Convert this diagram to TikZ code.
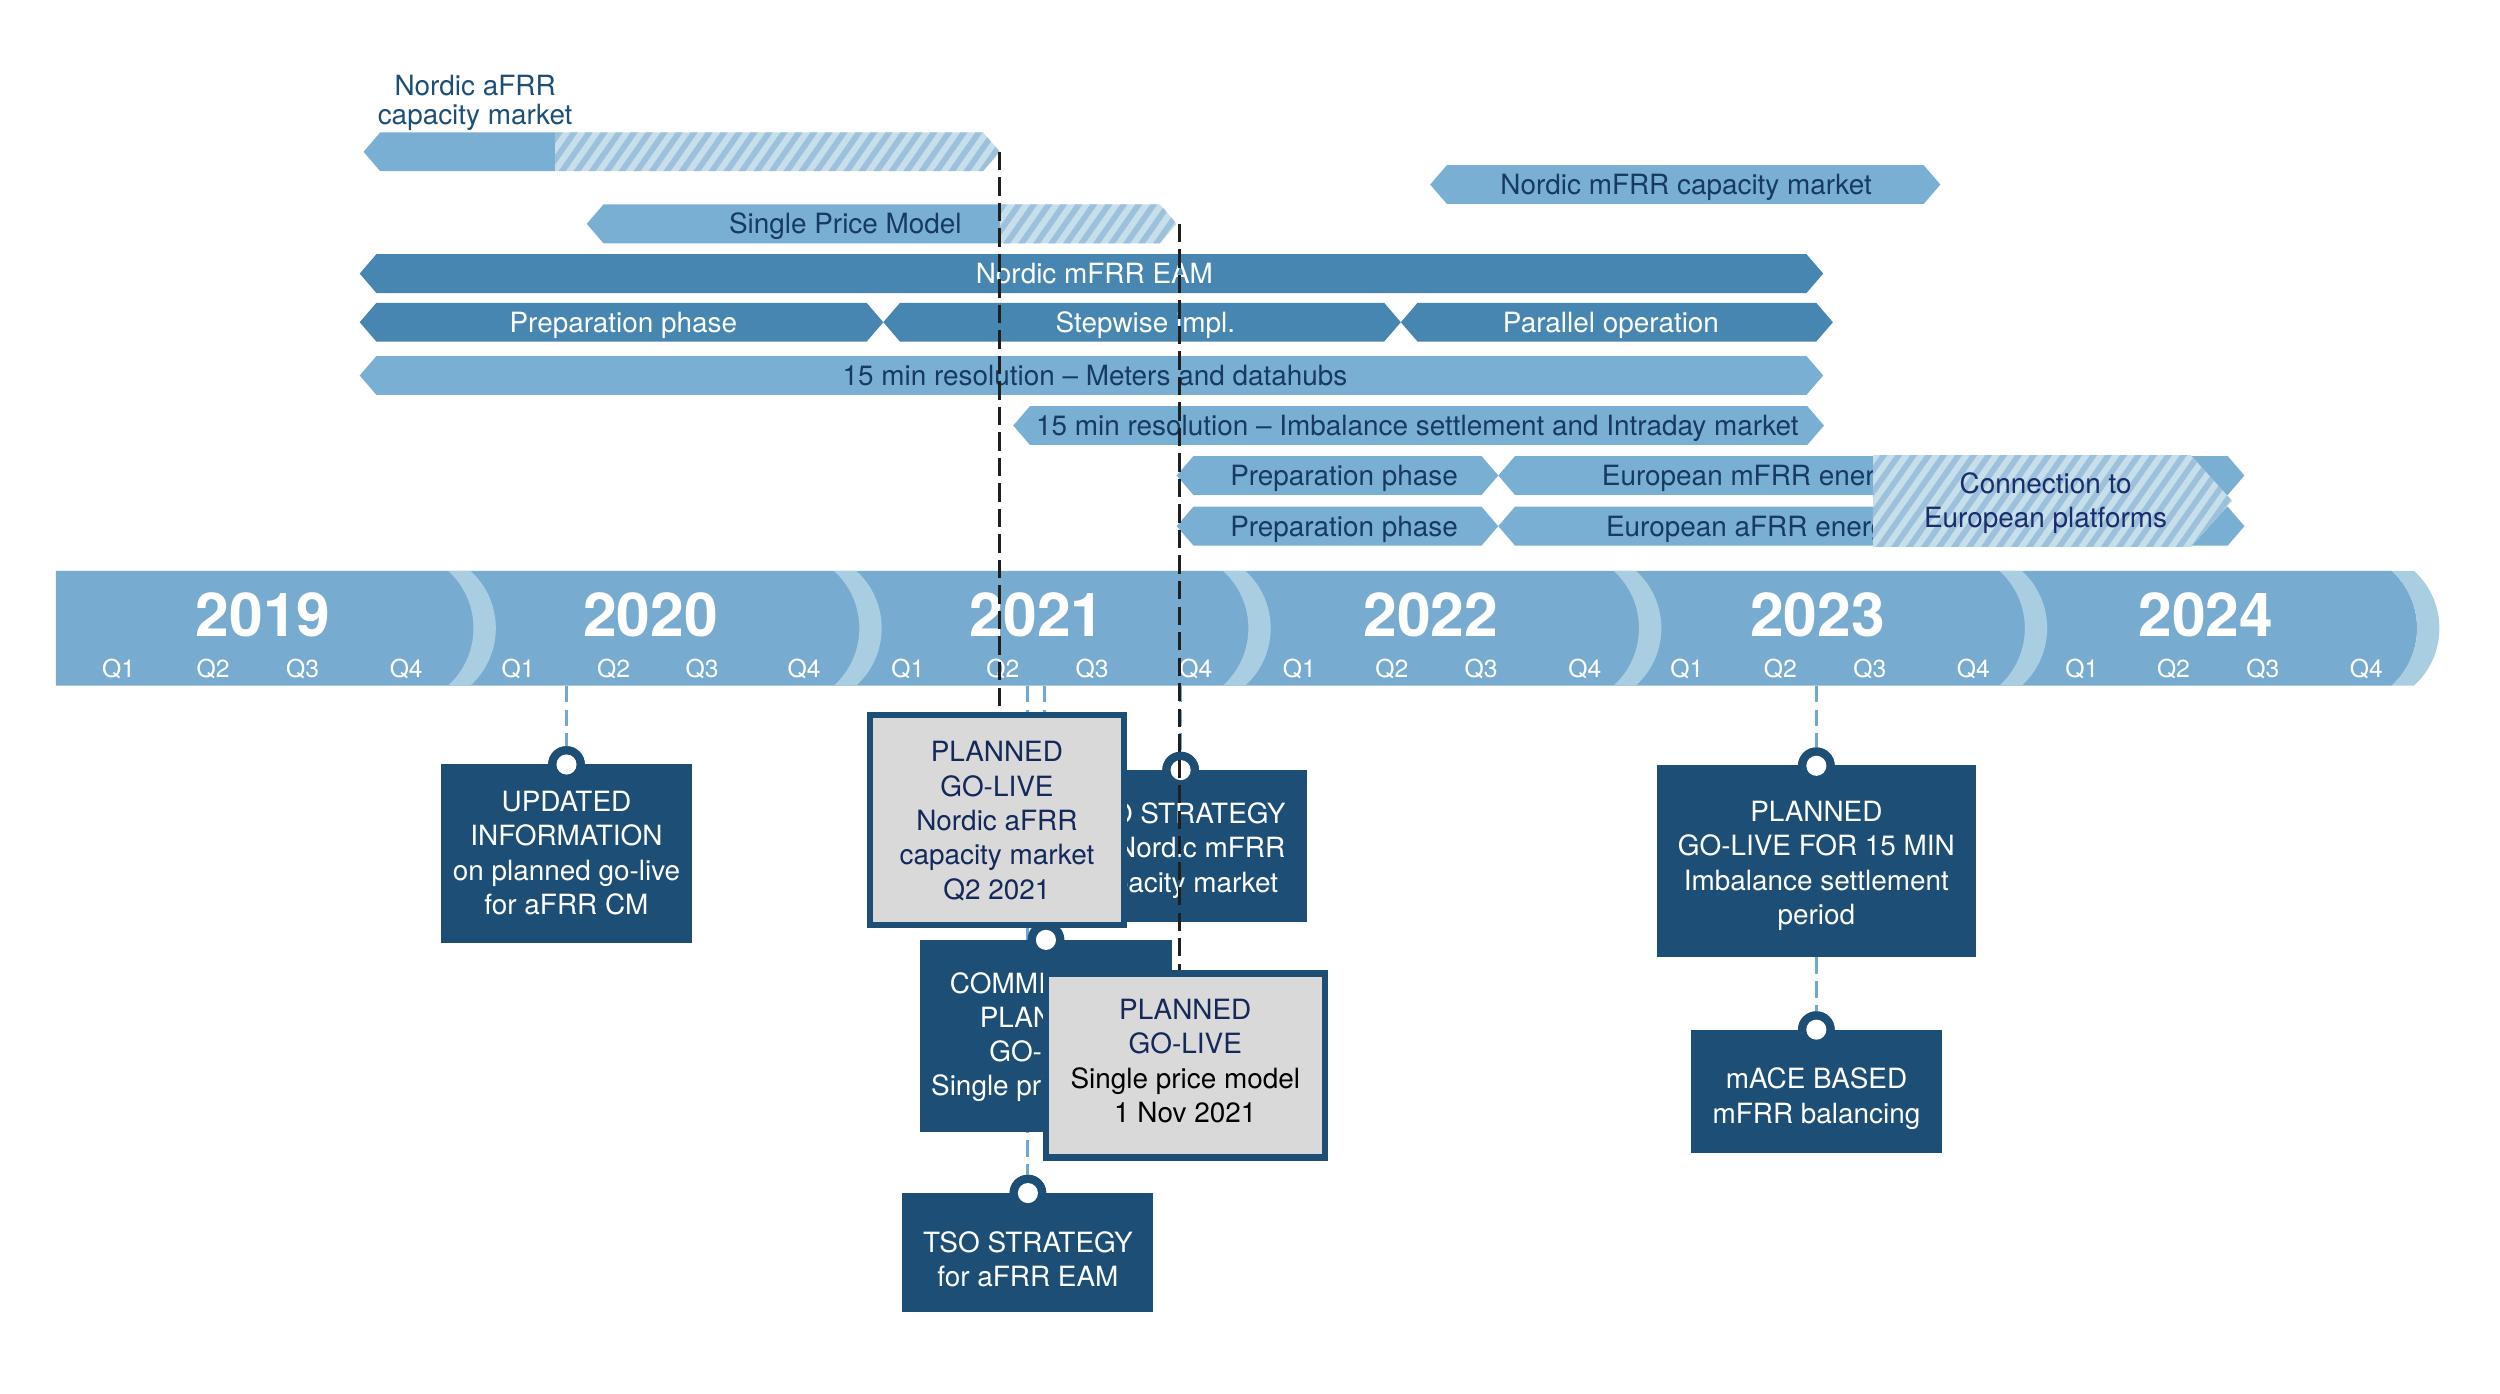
\documentclass[tikz,border=0pt]{standalone}
\usepackage{fontspec}
\setmainfont{TeX Gyre Heros}
\definecolor{band}{HTML}{77ACD0}
\definecolor{sepcol}{HTML}{A9CEE1}
\definecolor{lightbar}{HTML}{7AAFD4}
\definecolor{darkbar}{HTML}{4686B1}
\definecolor{navy}{HTML}{1D4F76}
\definecolor{bartxt}{HTML}{173A63}
\definecolor{grayfill}{HTML}{D9D9D9}
\definecolor{graytxt}{HTML}{14285A}
\definecolor{conntxt}{HTML}{1A2C6B}
\definecolor{hatchlight}{HTML}{C7DEEB}
\definecolor{hatchdark}{HTML}{9DC1DB}
\definecolor{dashblue}{HTML}{6FA8D2}
\newcommand{\tlbar}[4]{\fill[#4] (#1,#3) -- ({#1+10.5},{#3-12.2}) -- ({#2-10.5},{#3-12.2}) -- (#2,#3) -- ({#2-10.5},{#3+12.2}) -- ({#1+10.5},{#3+12.2}) -- cycle;}
\newcommand{\tlbarclip}[3]{\clip (#1,#3) -- ({#1+10.5},{#3-12.2}) -- ({#2-10.5},{#3-12.2}) -- (#2,#3) -- ({#2-10.5},{#3+12.2}) -- ({#1+10.5},{#3+12.2}) -- cycle;}
\newcommand{\hatchstripes}[4]{%
  \fill[hatchlight] (#1,#3) rectangle (#2,#4);
  \foreach \k in {0,...,36}{\draw[hatchdark,line width=3.6pt] ({#1-45+9.4*\k},{#4+3}) -- ++({0.7*(#4-#3+6)},{-(#4-#3+6)});}}
\begin{document}
\begin{tikzpicture}[x=1pt,y=-1pt,
  txt/.style={font=\fontsize{17.5}{21.5}\selectfont, inner sep=0pt, outer sep=0pt},
  bartext/.style={txt, anchor=base},
  boxtext/.style={txt, align=center, text=white},
  navybox/.style={fill=navy, inner sep=0pt, outer sep=0pt},
  graybox/.style={fill=grayfill, draw=navy, line width=4pt, inner sep=0pt, outer sep=0pt},
  tabnode/.style={circle, fill=navy, minimum size=23pt, inner sep=0pt, outer sep=0pt},
  tabdot/.style={circle, fill=white, minimum size=12.6pt, inner sep=0pt, outer sep=0pt},
  lightdash/.style={draw=dashblue, line width=1.8pt, dash pattern=on 10.5pt off 4.5pt},
  blackdash/.style={draw=black!88, line width=2pt, dash pattern=on 11.5pt off 4.5pt},
  yeartext/.style={font=\fontsize{38}{40}\selectfont\bfseries, text=white, anchor=base, inner sep=0pt},
  qtext/.style={font=\fontsize{15.5}{17}\selectfont, text=white, anchor=base, inner sep=0pt}]
\useasboundingbox (0,0) rectangle (1568,874);

% ---------------- timeline band ----------------
\fill[band] (35,358) -- (1500,358) .. controls (1521.3,377.2) and (1521.3,410.8) .. (1500,430) -- (35,430) -- cycle;
\foreach \s in {281,523,767,1012,1254,1500}{
  \fill[sepcol] (\s,358) -- ({\s+14},358) .. controls ({\s+35.3},377.2) and ({\s+35.3},410.8) .. ({\s+14},430) -- (\s,430) .. controls ({\s+21.3},410.8) and ({\s+21.3},377.2) .. (\s,358) -- cycle;}
\node[yeartext] (y2019) at (165,399.4) {2019};
\node[yeartext] (y2020) at (408,399.4) {2020};
\node[yeartext] (y2021) at (650.5,399.4) {2021};
\node[yeartext] (y2022) at (897.5,399.4) {2022};
\node[yeartext] (y2023) at (1140,399.4) {2023};
\node[yeartext] (y2024) at (1383.5,399.4) {2024};
\foreach \qx/\ql [count=\i] in {74.4/Q1,133.6/Q2,189.8/Q3,254.8/Q4,325/Q1,384.8/Q2,440.4/Q3,504.4/Q4,569.4/Q1,629/Q2,685/Q3,750/Q4,815/Q1,873/Q2,929/Q3,994/Q4,1058/Q1,1116.7/Q2,1172.7/Q3,1237.7/Q4,1305.7/Q1,1363.2/Q2,1419.2/Q3,1484.2/Q4}
  \node[qtext] (q\i) at (\qx,424.8) {\ql};

% ---------------- bars ----------------
% Nordic aFRR capacity market (solid + hatched)
\begin{scope}
  \tlbarclip{228}{627}{95.2}
  \fill[lightbar] (220,80) rectangle (348,112);
  \begin{scope}
    \clip (348,80) rectangle (630,112);
    \hatchstripes{348}{630}{83}{108}
  \end{scope}
\end{scope}
\node[txt, align=center, text=navy, font=\fontsize{17.5}{18}\selectfont] (afrrlabel) at (298,64.6) {Nordic aFRR\\capacity market};

% Single Price Model (solid + hatched)
\begin{scope}
  \tlbarclip{368}{738}{140.4}
  \fill[lightbar] (360,125) rectangle (627,157);
  \begin{scope}
    \clip (627,125) rectangle (742,157);
    \hatchstripes{627}{742}{128}{153}
  \end{scope}
\end{scope}
\node[bartext, text=bartxt] (spmt) at (530.2,146.7) {Single Price Model};

% Nordic mFRR capacity market
\tlbar{897}{1217}{115.75}{lightbar}
\node[bartext, text=bartxt] (mcmt) at (1057.5,122.05) {Nordic mFRR capacity market};

% Nordic mFRR EAM
\tlbar{225.6}{1143.5}{171.6}{darkbar}
\node[bartext, text=white] (eamt) at (686.4,177.9) {Nordic mFRR EAM};

% phases
\tlbar{225.6}{554}{202.1}{darkbar}
\tlbar{554}{878.6}{202.1}{darkbar}
\tlbar{878.6}{1149.6}{202.1}{darkbar}
\node[bartext, text=white] (prep1t) at (391,208.4) {Preparation phase};
\node[bartext, text=white] (stept) at (718.4,208.4) {Stepwise impl.};
\node[bartext, text=white] (part) at (1010.4,208.4) {Parallel operation};

% 15 min meters
\tlbar{225.6}{1143.5}{235.5}{lightbar}
\node[bartext, text=bartxt] (metert) at (686.8,241.8) {15 min resolution -- Meters and datahubs};

% 15 min imbalance
\tlbar{635.5}{1144}{266.9}{lightbar}
\node[bartext, text=bartxt] (imbt) at (889,273.2) {15 min resolution -- Imbalance settlement and Intraday market};

% European mFRR / aFRR rows
\tlbar{738}{939.7}{298.25}{lightbar}
\tlbar{939.7}{1407.7}{298.25}{lightbar}
\tlbar{738}{939.7}{330}{lightbar}
\tlbar{939.7}{1407.7}{330}{lightbar}
\node[bartext, text=bartxt] (prep2t) at (843,304.55) {Preparation phase};
\node[bartext, text=bartxt] (prep3t) at (843,336.3) {Preparation phase};
\node[bartext, text=bartxt, anchor=base west] (eumt) at (1004.7,304.55) {European mFRR energy};
\node[bartext, text=bartxt, anchor=base west] (euat) at (1007.3,336.3) {European aFRR energy};

% Connection to European platforms (hatched)
\begin{scope}
  \clip (1174.7,285.5) -- (1374,285.5) -- (1400,314.2) -- (1374,343) -- (1174.7,343) -- cycle;
  \hatchstripes{1174.7}{1402}{285.5}{343}
\end{scope}
\node[txt, align=center, text=conntxt] (connt) at (1283,315.5) {Connection to\\European platforms};

% ---------------- connectors from the band ----------------
\coordinate (b1) at (355.3,430);
\coordinate (b2) at (644.7,430);
\coordinate (b3) at (655,430);
\coordinate (b4) at (740.5,430);
\coordinate (b5) at (1139.2,430);
\node[tabnode] (updtab) at (355.3,479.5) {};
\node[tabnode] (tsomtab) at (740.5,483) {};
\node[tabnode] (commtab) at (656,589.5) {};
\node[tabnode] (tsoatab) at (644.7,748.3) {};
\node[tabnode] (p23tab) at (1139.2,480.3) {};
\node[tabnode] (macetab) at (1139.2,645.8) {};
\draw[lightdash] (b1) -- (updtab.center);
\draw[lightdash] (b2) -- (tsoatab.center);
\draw[lightdash] (b3) -- (b3 |- commtab.center);
\draw[lightdash] (b4) -- (tsomtab.center);
\draw[lightdash] (b5) -- (p23tab.center);

% ---------------- navy boxes ----------------
\node[navybox, minimum width=157.4pt, minimum height=112.3pt] (upd) at (355.3,535.45) {};
\node[navybox, minimum width=158.4pt, minimum height=95pt] (tsom) at (740.5,530.5) {};
\node[navybox, minimum width=158pt, minimum height=120.7pt] (comm) at (656,649.65) {};
\node[navybox, minimum width=157.4pt, minimum height=74.8pt] (tsoa) at (644.7,785.6) {};
\node[navybox, minimum width=200.4pt, minimum height=120.5pt] (p23) at (1139.2,540.25) {};
\node[navybox, minimum width=157.4pt, minimum height=77.2pt] (mace) at (1139.3,684.4) {};
\draw[lightdash] (p23.south) -- (macetab.center);
\foreach \t in {updtab,tsomtab,commtab,tsoatab,p23tab,macetab}{
  \node[tabnode] at (\t) {};
  \node[tabdot] (\t-dot) at (\t) {};}
\node[boxtext] (updt) at (355.3,535) {UPDATED\\INFORMATION\\on planned go-live\\for aFRR CM};
\node[boxtext] (tsomt) at (740.5,533.4) {TSO STRATEGY\\for Nordic mFRR\\capacity market};
\node[boxtext] (commt) at (656,650.5) {COMMITMENT\\PLANNED\\GO-LIVE\\Single price model};
\node[boxtext] (tsoat) at (644.7,789.75) {TSO STRATEGY\\for aFRR EAM};
\node[boxtext] (p23t) at (1139.2,543.1) {PLANNED\\GO-LIVE FOR 15 MIN\\Imbalance settlement\\period};
\node[boxtext] (macet) at (1139.3,689.1) {mACE BASED\\mFRR balancing};

% ---------------- black dashed go-live markers ----------------
\coordinate (afrrend) at (627,95.2);
\coordinate (spmend) at (740,140.4);
\coordinate (gb1top) at (627,449);
\coordinate (gb2top) at (740,611);
\draw[blackdash] (afrrend) -- (gb1top);
\draw[blackdash] (spmend) -- (gb2top);

% ---------------- gray go-live boxes ----------------
\node[graybox, minimum width=159.5pt, minimum height=131.5pt] (gb1) at (625.25,514.25) {};
\node[boxtext, text=graytxt] (gb1t) at (625.25,515) {PLANNED\\GO-LIVE\\Nordic aFRR\\capacity market\\Q2 2021};
\node[graybox, minimum width=175pt, minimum height=115.5pt] (gb2) at (743.5,668.25) {};
\node[boxtext, text=black] (gb2t) at (743.4,665.5) {\textcolor{graytxt}{PLANNED}\\\textcolor{graytxt}{GO-LIVE}\\Single price model\\1 Nov 2021};
\end{tikzpicture}
\end{document}
